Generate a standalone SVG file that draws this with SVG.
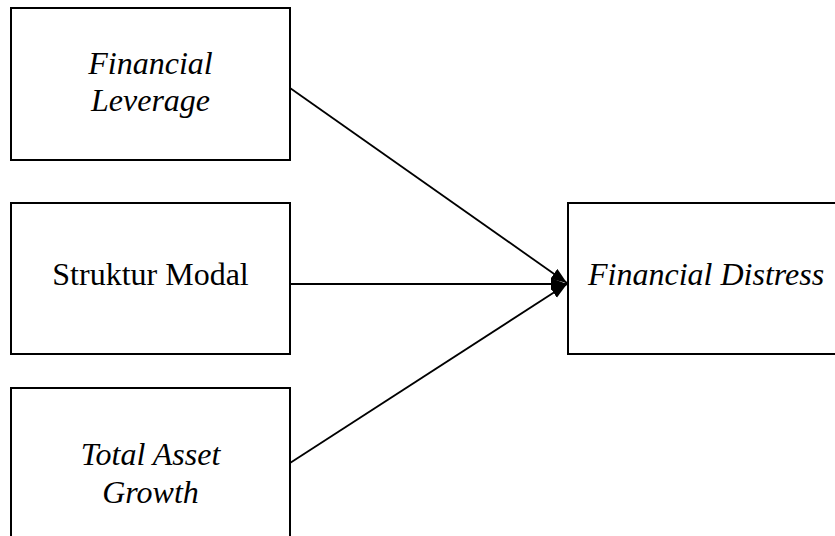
<svg xmlns="http://www.w3.org/2000/svg" width="835" height="536" viewBox="0 0 835 536">
<style>
.box{fill:#fff;stroke:#000;stroke-width:2}
.t{font-family:"Liberation Serif","Times New Roman",serif;font-size:32px;fill:#000}
.i{font-style:italic}
.c{text-anchor:middle}
.ln{stroke:#000;stroke-width:1.8;fill:none;marker-end:url(#ah)}
</style>
<defs>
<marker id="ah" markerUnits="userSpaceOnUse" markerWidth="18" markerHeight="14" refX="16" refY="6" orient="auto">
<path d="M0,0 L16,6 L0,12 Z" fill="#000"/>
</marker>
</defs>
<rect width="835" height="536" fill="#fff"/>
<g id="connectors">
<line class="ln" x1="290" y1="88" x2="567" y2="283"/>
<line class="ln" x1="290" y1="284" x2="567" y2="284"/>
<line class="ln" x1="290" y1="463" x2="567" y2="284"/>
</g>
<g id="financial-leverage">
<rect class="box" x="11" y="8" width="279" height="152"/>
<text class="t i c" x="150.5" y="74">Financial</text>
<text class="t i c" x="150.5" y="111">Leverage</text>
</g>
<g id="struktur-modal">
<rect class="box" x="11" y="203" width="279" height="151"/>
<text class="t c" x="150.5" y="285">Struktur Modal</text>
</g>
<g id="total-asset-growth">
<rect class="box" x="11" y="388" width="279" height="170"/>
<text class="t i c" x="150.5" y="465">Total Asset</text>
<text class="t i c" x="150.5" y="503">Growth</text>
</g>
<g id="financial-distress">
<rect class="box" x="568" y="203" width="280" height="151"/>
<text class="t i" x="588" y="285">Financial Distress</text>
</g>
</svg>
